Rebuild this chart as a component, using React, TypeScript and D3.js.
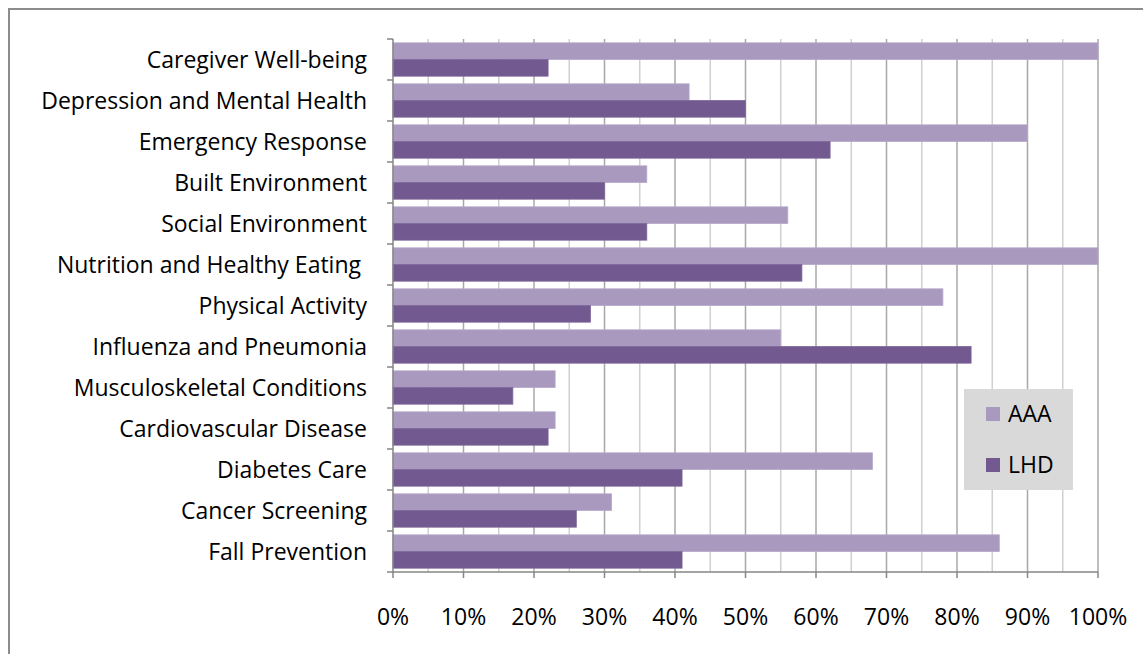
import React from "react";
import * as d3 from "d3";

const categories = [
  "Caregiver Well-being",
  "Depression and Mental Health",
  "Emergency Response",
  "Built Environment",
  "Social Environment",
  "Nutrition and Healthy Eating ",
  "Physical Activity",
  "Influenza and Pneumonia",
  "Musculoskeletal Conditions",
  "Cardiovascular Disease",
  "Diabetes Care",
  "Cancer Screening",
  "Fall Prevention",
];
const seriesNames = ["AAA", "LHD"];
const aaaValues = [1.0, 0.42, 0.9, 0.36, 0.56, 1.0, 0.78, 0.55, 0.23, 0.23, 0.68, 0.31, 0.86];
const lhdValues = [0.22, 0.5, 0.62, 0.3, 0.36, 0.58, 0.28, 0.82, 0.17, 0.22, 0.41, 0.26, 0.41];
const xTicks = [0, 0.1, 0.2, 0.3, 0.4, 0.5, 0.6, 0.7, 0.8, 0.9, 1.0];
const colors = ["#A999BF", "#72598F"];

const W = 1143;
const H = 654;
const FONT = "'Open Sans', sans-serif";
const FS = 23;

export default function App() {
  const x = d3.scaleLinear().domain([0, 1]).range([393, 1098]);
  const y = d3.scaleBand<string>().domain(categories).range([39, 572]).padding(0);
  const ys = d3
    .scaleBand<string>()
    .domain(seriesNames)
    .range([0, y.bandwidth()])
    .paddingInner(0)
    .paddingOuter(0.23);
  const minorTicks = d3.range(0.05, 1, 0.1);
  const data = [aaaValues, lhdValues];
  const boundaries = categories.map((c) => y(c)!).concat([572]);

  return (
    <svg
      width={W}
      height={H}
      style={{ position: "absolute", left: 0, top: 0, background: "#fff" }}
      fontFamily={FONT}
    >
      <rect x={0} y={0} width={W} height={H} fill="#fff" />
      {/* outer border */}
      <rect x={9} y={9} width={W + 10} height={H + 10} fill="none" stroke="#8C8C8C" strokeWidth={2} />

      {/* gridlines */}
      {minorTicks.map((t, i) => (
        <line key={"m" + i} x1={x(t)} x2={x(t)} y1={39} y2={572} stroke="#D0D0D0" strokeWidth={1.5} />
      ))}
      {xTicks.slice(1).map((t, i) => (
        <line key={"g" + i} x1={x(t)} x2={x(t)} y1={39} y2={572} stroke="#A8A8A8" strokeWidth={1.5} />
      ))}

      {/* bars */}
      {categories.map((c, ci) =>
        seriesNames.map((s, si) => (
          <rect
            key={c + s}
            x={x(0)}
            y={y(c)! + ys(s)!}
            width={x(data[si][ci]) - x(0)}
            height={ys.bandwidth()}
            fill={colors[si]}
            stroke={si === 0 ? "#B6A8CA" : "#7D6699"}
            strokeWidth={0.8}
          />
        ))
      )}

      {/* axes */}
      <line x1={393} x2={393} y1={39} y2={572} stroke="#868686" strokeWidth={1.5} />
      {boundaries.map((b, i) => (
        <line key={"yt" + i} x1={387} x2={393} y1={b} y2={b} stroke="#868686" strokeWidth={1.5} />
      ))}
      <line x1={393} x2={1098} y1={572} y2={572} stroke="#868686" strokeWidth={1.5} />
      {xTicks.map((t, i) => (
        <line key={"xt" + i} x1={x(t)} x2={x(t)} y1={572} y2={578} stroke="#868686" strokeWidth={1.5} />
      ))}

      {/* category labels */}
      {categories.map((c) => (
        <text
          key={"l" + c}
          x={367}
          y={y(c)! + y.bandwidth() / 2}
          dy="0.36em"
          textAnchor="end"
          fontSize={FS}
          fill="#000"
          style={{ whiteSpace: "pre" }}
        >
          {c}
        </text>
      ))}

      {/* x tick labels */}
      {xTicks.map((t, i) => (
        <text key={"xl" + i} x={x(t)} y={625} textAnchor="middle" fontSize={FS} fill="#000">
          {d3.format(".0%")(t)}
        </text>
      ))}

      {/* legend */}
      <rect x={964} y={389} width={109} height={101} fill="#D9D9D9" />
      {seriesNames.map((s, i) => (
        <g key={"lg" + s}>
          <rect x={986} y={407 + i * 51} width={14} height={14} fill={colors[i]} />
          <text x={1008} y={422 + i * 51} fontSize={FS} fill="#000">
            {s}
          </text>
        </g>
      ))}
    </svg>
  );
}
